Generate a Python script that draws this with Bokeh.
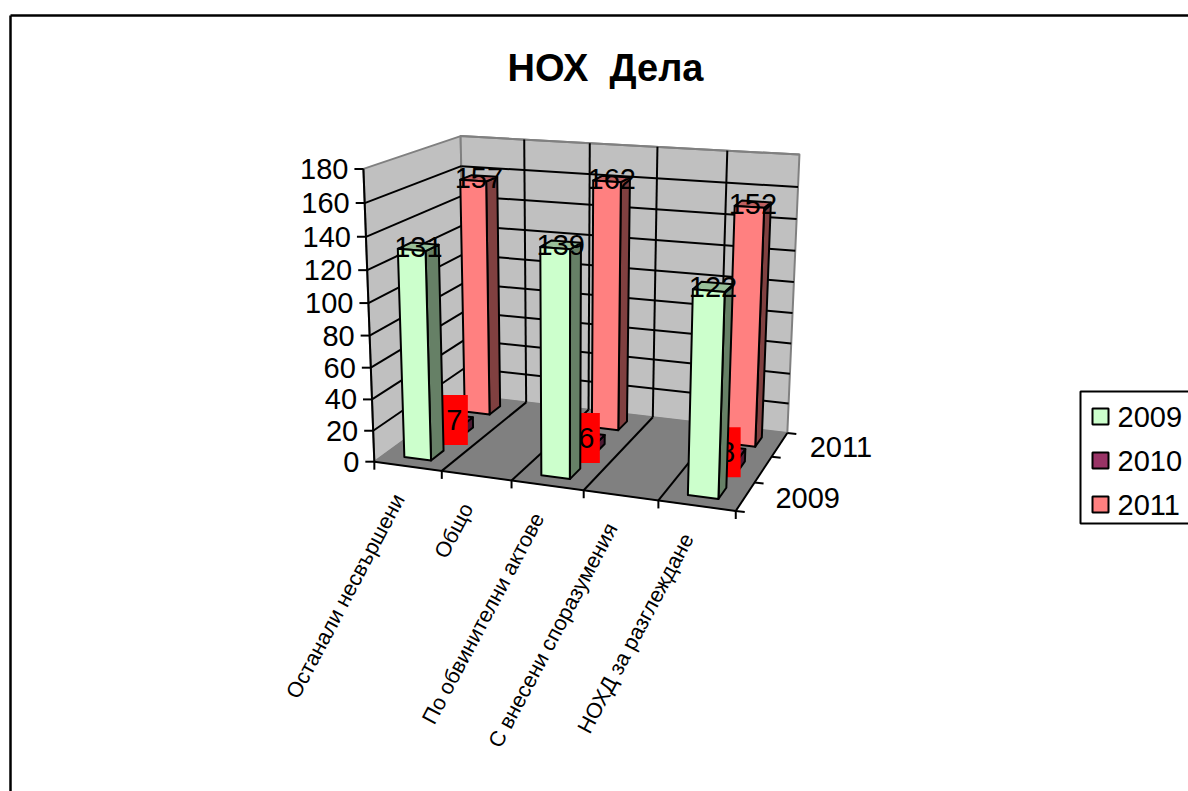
import numpy as np
from bokeh.core.properties import value
from bokeh.embed import file_html
from bokeh.models import Range1d
from bokeh.plotting import figure
from bokeh.resources import INLINE

# ---- data ----
categories = ["Останали несвършени", "Общо", "По обвинителни актове",
              "С внесени споразумения", "НОХД за разглеждане"]
series_names = ["2009", "2010", "2011"]
values_2009 = [131, None, 139, None, 122]
values_2010 = [7, None, 6, None, 8]
values_2011 = [157, None, 162, None, 152]
y_ticks = [0, 20, 40, 60, 80, 100, 120, 140, 160, 180]
depth_labels = ["2009", None, "2011"]
title_text = "НОХ \u00a0Дела"
Y_MAX = 180

# ---- styling ----
FONT = "Liberation Sans"
colors = {"2009": ("#CCFFCC", "#668066", "#99BF99"),
          "2010": ("#993366", "#4D1A33", "#732650"),
          "2011": ("#FF8080", "#804040", "#BF6060")}
W, H = 1188, 791

# ---- camera: maps the 3-D chart box (u, v, w in 0..1) to the picture ----
box3d = [(0, 0, 0), (1, 0, 0), (1, 1, 0), (0, 1, 0), (0, 0, 1), (0, 1, 1), (1, 1, 1)]
box2d = [(374, 462), (735, 510), (787, 433), (465, 394), (363, 168), (460, 136), (799, 154)]
A = []
for (a, b, c), (x, y) in zip(box3d, box2d):
    A.append([a, b, c, 1, 0, 0, 0, 0, -x * a, -x * b, -x * c, -x])
    A.append([0, 0, 0, 0, a, b, c, 1, -y * a, -y * b, -y * c, -y])
CAM = np.linalg.svd(np.array(A, dtype=float))[2][-1].reshape(3, 4)


def proj(u, v, w):
    q = CAM @ np.array([u, v, w, 1.0])
    return q[0] / q[2], q[1] / q[2]


p = figure(width=W, height=H, output_backend="svg", toolbar_location=None,
           x_range=Range1d(0, W), y_range=Range1d(H, 0),
           min_border=0, outline_line_color=None, background_fill_color="white",
           border_fill_color="white")
p.xaxis.visible = False
p.yaxis.visible = False
p.xgrid.visible = False
p.ygrid.visible = False


def face(pts, fill, line="black", lw=2.0):
    xy = [proj(*q) for q in pts]
    p.patch([a for a, _ in xy], [b for _, b in xy], fill_color=fill,
            line_color=line, line_width=lw, line_join="round")


def seg(a, b, color="black", lw=2.0):
    pa, pb = proj(*a), proj(*b)
    p.line([pa[0], pb[0]], [pa[1], pb[1]], line_color=color, line_width=lw)


def tick(a, dx, dy, lw=2.0):
    x, y = proj(*a)
    p.line([x, x + dx], [y, y + dy], line_color="black", line_width=lw)


def label(x, y, text, size, align="center", baseline="middle", angle=0.0, style="normal"):
    p.text([x], [y], text=[text], text_font=value(FONT), text_font_size=f"{size}px",
           text_align=align, text_baseline=baseline, angle=angle, text_color="black",
           text_font_style=style)


# chart frame of the page
p.line([10, 10], [H, 15], line_color="black", line_width=2.5)
p.line([10, W], [15, 15], line_color="black", line_width=2.5)

label(605, 67, title_text, 38, style="bold")

# walls and floor
face([(0, 0, 0), (0, 1, 0), (0, 1, 1), (0, 0, 1)], "#C0C0C0", "#808080", 2)
face([(0, 1, 0), (1, 1, 0), (1, 1, 1), (0, 1, 1)], "#C0C0C0", "#808080", 2)
face([(0, 0, 0), (1, 0, 0), (1, 1, 0), (0, 1, 0)], "#808080", "#808080", 1)

n = len(categories)
m = len(series_names)

# value grid on both walls
for t in y_ticks[1:-1]:
    w = t / Y_MAX
    seg((0, 0, w), (0, 1, w))
    seg((0, 1, w), (1, 1, w))
seg((0, 1, 1), (1, 1, 1), "#808080", 2)
# category grid on back wall and floor
for i in range(1, n):
    seg((i / n, 1, 0), (i / n, 1, 1))
    seg((i / n, 0, 0), (i / n, 1, 0))

# axes and ticks
seg((0, 0, 0), (0, 0, 1))
seg((0, 0, 0), (1, 0, 0))
seg((1, 0, 0), (1, 1, 0))
for t in y_ticks:
    tick((0, 0, t / Y_MAX), -9, 0)
    x, y = proj(0, 0, t / Y_MAX)
    label(x - 15, y, str(t), 29, align="right")
for i in range(n + 1):
    tick((i / n, 0, 0), 0, 8)
for j in range(m + 1):
    tick((1, j / m, 0), 9, 1)
for j, lab in enumerate(depth_labels):
    if lab:
        x, y = proj(1, (j + 0.5) / m, 0)
        label(x + 30, y + 2, lab, 29, align="left")

# category labels
for i, c in enumerate(categories):
    x, y = proj((i + 0.5) / n, 0, 0)
    label(x - 9, y + 29, c, 21.6, align="right", angle=np.deg2rad(62))

# bars, back row first
BAR_FRAC = 0.4
rows = [("2009", values_2009), ("2010", values_2010), ("2011", values_2011)]
for j in reversed(range(m)):
    name, vals = rows[j]
    fc, sc, tc = colors[name]
    for i, val in enumerate(vals):
        if val is None:
            continue
        w = val / Y_MAX
        u0 = (i + 0.5 - BAR_FRAC / 2) / n
        u1 = (i + 0.5 + BAR_FRAC / 2) / n
        v0 = (j + 0.5 - BAR_FRAC / 2) / m
        v1 = (j + 0.5 + BAR_FRAC / 2) / m
        face([(u1, v0, 0), (u1, v1, 0), (u1, v1, w), (u1, v0, w)], sc)
        face([(u0, v0, w), (u1, v0, w), (u1, v1, w), (u0, v1, w)], tc)
        face([(u0, v0, 0), (u1, v0, 0), (u1, v0, w), (u0, v0, w)], fc)
    for i, val in enumerate(vals):
        if val is None:
            continue
        x, y = proj((i + 0.5) / n, (j + 0.5) / m, val / Y_MAX)
        if name == "2010":
            p.rect([x], [y], width=27, height=50, fill_color="#FF0000", line_color=None)
        label(x, y, str(val), 29)

# legend
p.quad(left=[1080], right=[1200], top=[391], bottom=[523], fill_color="white",
       line_color="black", line_width=2)
legend_y = [416, 460, 504]
for name, ly in zip(series_names, legend_y):
    p.rect([1100], [ly], width=16, height=16, fill_color=colors[name][0],
           line_color="black", line_width=2)
    label(1117, ly, name, 29, align="left")

open("out.html", "w").write(file_html(p, INLINE))
